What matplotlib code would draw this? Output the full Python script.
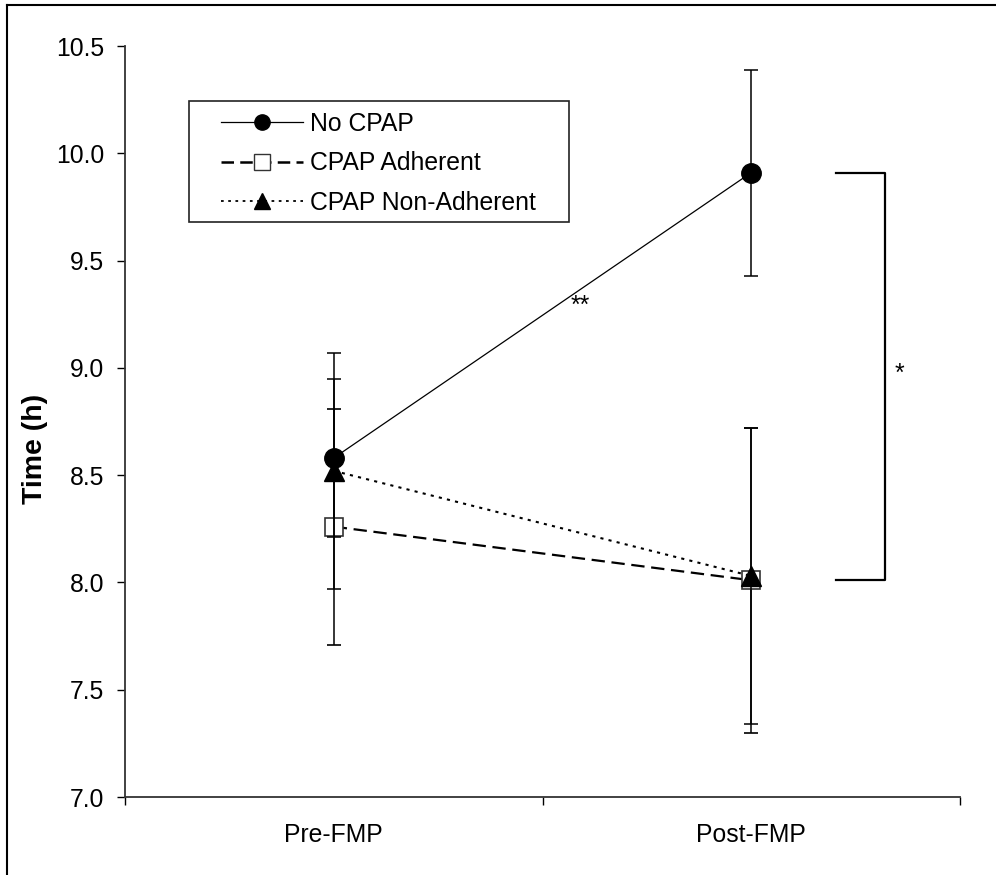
import matplotlib
matplotlib.use("Agg")
import matplotlib.pyplot as plt
from matplotlib.lines import Line2D
from matplotlib.patches import Rectangle

plt.rcParams['font.family'] = ['Liberation Sans', 'DejaVu Sans']

# 各组睡眠时间（均值 ± 误差）
periods = ['Pre-FMP', 'Post-FMP']
x_pos = [0.5, 1.5]

no_cpap = [8.58, 9.91]
no_cpap_err = [0.37, 0.48]

cpap_adherent = [8.26, 8.01]
cpap_adherent_err = [0.55, 0.71]

cpap_non_adherent = [8.52, 8.03]
cpap_non_adherent_err = [0.55, 0.69]

y_ticks = [7.0, 7.5, 8.0, 8.5, 9.0, 9.5, 10.0, 10.5]

W, H = 996, 875
fig = plt.figure(figsize=(W / 100, H / 100), dpi=100)
ax = fig.add_axes([125 / W, 1 - 797 / H, (960 - 125) / W, (797 - 46) / H])

fs = 17.8
err_kw = dict(ecolor='black', elinewidth=1.1, capsize=5, capthick=1.1)

ax.errorbar(x_pos, cpap_adherent, yerr=cpap_adherent_err, color='black',
            linestyle=(0, (6, 3)), linewidth=1.6, marker='s', markersize=13,
            markerfacecolor='white', markeredgecolor='#333333', markeredgewidth=1.2,
            zorder=3, **err_kw)
ax.errorbar(x_pos, cpap_non_adherent, yerr=cpap_non_adherent_err, color='black',
            linestyle=(0, (1.5, 2.5)), linewidth=1.5, marker='^', markersize=15,
            markerfacecolor='black', markeredgecolor='black',
            zorder=4, **err_kw)
ax.errorbar(x_pos, no_cpap, yerr=no_cpap_err, color='black',
            linestyle='-', linewidth=0.9, marker='o', markersize=14,
            markerfacecolor='black', markeredgecolor='black',
            zorder=5, **err_kw)

# 显著性标注
ax.text(1.09, 9.29, '**', fontsize=fs, ha='center', va='center')
bx0, bx1 = 1.703, 1.82
ax.plot([bx0, bx1, bx1, bx0],
        [no_cpap[1], no_cpap[1], cpap_adherent[1], cpap_adherent[1]],
        color='black', linewidth=1.6, clip_on=False)
ax.text(1.855, 8.97, '*', fontsize=fs, ha='center', va='center')

ax.set_xlim(0, 2)
ax.set_ylim(7.0, 10.5)
ax.set_yticks(y_ticks)
ax.set_yticklabels([f'{v:.1f}' for v in y_ticks])
ax.set_xticks([0, 1, 2])
ax.set_xticklabels([])
ax.set_xticks(x_pos, minor=True)
ax.set_xticklabels(periods, minor=True)

ax.tick_params(axis='y', direction='out', length=6, width=1, pad=9, labelsize=fs)
ax.tick_params(axis='x', which='major', direction='out', length=6, width=1)
ax.tick_params(axis='x', which='minor', length=0, pad=19, labelsize=fs)

for side in ['top', 'right']:
    ax.spines[side].set_visible(False)
for side in ['left', 'bottom']:
    ax.spines[side].set_color('#333333')
    ax.spines[side].set_linewidth(1.3)

fig.text(35 / W, 1 - 449 / H, 'Time (h)', rotation=90, fontsize=20.5,
         fontweight='bold', ha='center', va='center')

# 图例：无边框图例 + 单独绘制的方框
handles = [
    Line2D([], [], color='black', linestyle='-', linewidth=0.9, marker='o',
           markersize=11, markerfacecolor='black'),
    Line2D([], [], color='black', linestyle=(0, (5, 2.5)), linewidth=1.8, marker='s',
           markersize=11, markerfacecolor='white', markeredgecolor='#333333'),
    Line2D([], [], color='black', linestyle=(0, (1.5, 2.5)), linewidth=1.3, marker='^',
           markersize=12, markerfacecolor='black'),
]
leg = ax.legend(handles, ['No CPAP', 'CPAP Adherent', 'CPAP Non-Adherent'],
                loc='upper left', bbox_to_anchor=(221 / W, 1 - 112 / H),
                bbox_transform=fig.transFigure, fontsize=fs, frameon=False,
                handlelength=3.3, handletextpad=0.28, labelspacing=0.62,
                borderpad=0, borderaxespad=0)
fig.add_artist(Rectangle((189 / W, 1 - 222 / H), (569 - 189) / W, (222 - 101) / H,
                         transform=fig.transFigure, fill=False,
                         edgecolor='#222222', linewidth=1.2))

# 图表外框（左、上）
fig.add_artist(Line2D([7 / W, 7 / W], [0, 1 - 5 / H], transform=fig.transFigure,
                      color='black', linewidth=1.5))
fig.add_artist(Line2D([7 / W, 1], [1 - 5 / H, 1 - 5 / H], transform=fig.transFigure,
                      color='black', linewidth=1.5))

fig.savefig('out.png', dpi=100)
